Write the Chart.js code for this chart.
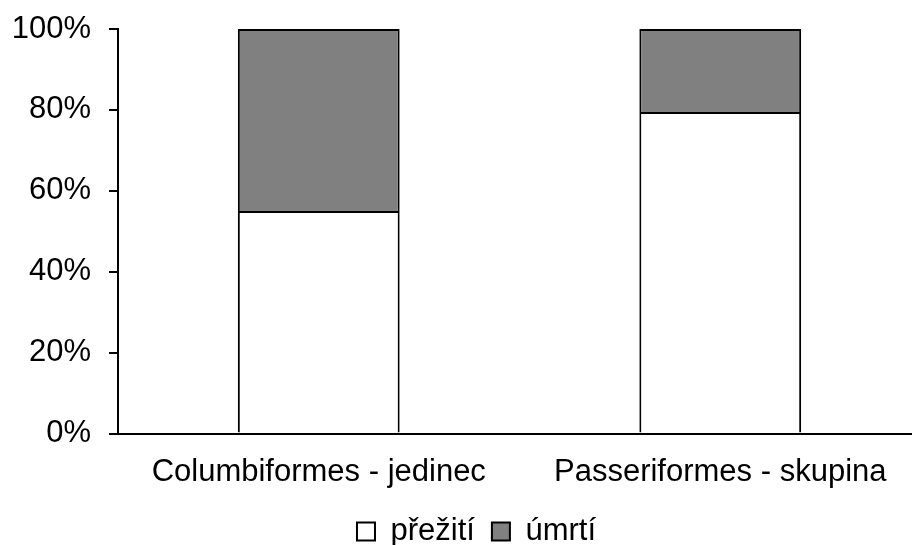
<!DOCTYPE html>
<html>
<head>
<meta charset="utf-8">
<script src="https://cdn.jsdelivr.net/npm/chart.js@4"></script>
<style>
  html, body { margin:0; padding:0; background:#fff; overflow:hidden; }
  #wrap { position:absolute; left:0; top:0; width:956px; height:557px; }
</style>
</head>
<body>
<div id="wrap"><canvas id="graf"></canvas></div>
<script>
// =========================
// DATA
// =========================

const kategorie = ["Columbiformes - jedinec", "Passeriformes - skupina"];
const prezitiHodnoty = [55, 79.5];
const umrtiHodnoty = [45, 20.5];
const osaY = {min: 0, max: 100, krok: 20};

// =========================
// CHART
// =========================

Chart.defaults.font.family = "'Liberation Sans', Arial, sans-serif";
Chart.defaults.font.size = 31;
Chart.defaults.color = "#000";

// legenda je v originale trochu vpravo od stredu
const posunLegendy = {
  id: "posunLegendy",
  afterLayout(chart){
    if(!chart.legend) return;
    chart.legend.left += 16;
    chart.legend.right += 16;
  }
};

const ctx = document.getElementById("graf").getContext("2d");

new Chart(ctx, {
  type: "bar",
  data: {
    labels: kategorie,
    datasets: [
      {label: "přežití", data: prezitiHodnoty, backgroundColor: "#ffffff", borderColor: "#000", borderWidth: 2},
      {label: "úmrtí", data: umrtiHodnoty, backgroundColor: "#808080", borderColor: "#000", borderWidth: 2}
    ]
  },
  options: {
    responsive: true,
    maintainAspectRatio: false,
    animation: false,
    barPercentage: 0.403,
    categoryPercentage: 1,
    layout: {padding: {top: 29, right: 35, left: 0, bottom: 0}},
    plugins: {
      tooltip: {enabled: false},
      legend: {
        position: "bottom",
        labels: {boxWidth: 18, boxHeight: 18, padding: 17, color: "#000"}
      }
    },
    scales: {
      x: {
        stacked: true,
        grid: {display: true, drawOnChartArea: false, drawTicks: false},
        border: {display: true, color: "#000", width: 2},
        ticks: {padding: 20},
        afterFit: s => { s.height = 65.5; }
      },
      y: {
        stacked: true,
        min: osaY.min,
        max: osaY.max,
        grid: {drawOnChartArea: false, drawTicks: true, tickLength: 9, color: "#000", lineWidth: 2},
        border: {display: true, color: "#000", width: 2},
        ticks: {stepSize: osaY.krok, padding: 18, callback: v => v + "%"},
        afterFit: s => { s.width = 118; s.paddingTop = 0; s.paddingBottom = 0; }
      }
    }
  },
  plugins: [posunLegendy]
});
</script>
</body>
</html>
